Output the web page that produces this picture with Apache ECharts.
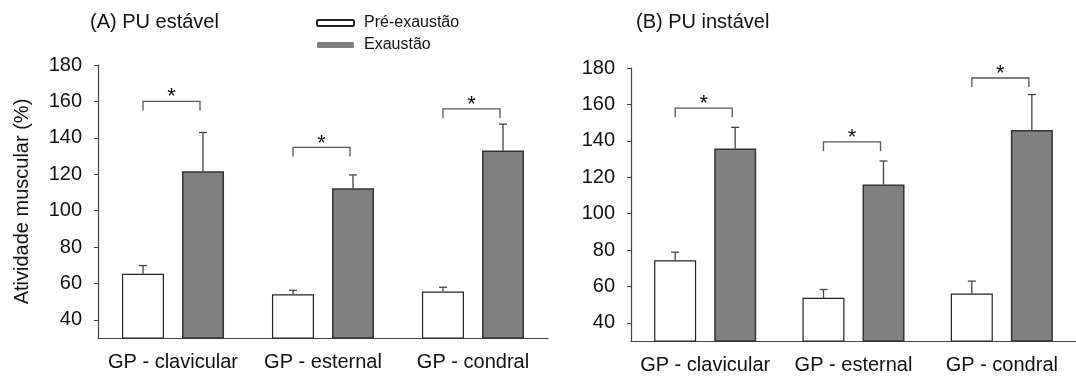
<!DOCTYPE html>
<html>
<head>
<meta charset="UTF-8">
<title>Atividade muscular</title>
<script src="https://cdn.jsdelivr.net/npm/echarts@6/dist/echarts.min.js"></script>
</head>
<body style="margin:0">
    <div id="main" style="width:1076px;height:381px;"></div>

    <script type="text/javascript">
        // categorias e legendas
        var categories = ['GP - clavicular', 'GP - esternal', 'GP - condral'];
        var yTicks = [40, 60, 80, 100, 120, 140, 160, 180];

        // (A) PU estável: médias e desvios (só para cima)
        var preA = [65.3, 54.0, 55.5];
        var preSdA = [4.5, 2.2, 2.4];
        var exaA = [121.6, 112.3, 133.0];
        var exaSdA = [21.3, 7.3, 14.5];
        var sigA = [160, 134.7, 155.9];   // altura dos colchetes *

        // (B) PU instável
        var preB = [74.3, 53.7, 56.1];
        var preSdB = [4.5, 4.6, 6.8];
        var exaB = [135.8, 116.0, 146.0];
        var exaSdB = [11.6, 12.9, 19.4];
        var sigB = [158, 139.4, 174.5];

        var font = '"Liberation Sans", Arial, sans-serif';
        var half = 30; // metade da distância entre os centros das barras

        function xAxisFor(i) {
            return {
                type: 'category', gridIndex: i, data: categories,
                axisLine: { lineStyle: { color: '#444', width: 1.2 } },
                axisTick: { alignWithLabel: true, length: 5, lineStyle: { color: '#444' } },
                axisLabel: { color: '#111', fontSize: 20, fontFamily: font, margin: 14, interval: 0 }
            };
        }

        function yAxisFor(i) {
            var ax = {
                type: 'value', gridIndex: i, min: 30, max: 180,
                axisLine: { show: true, lineStyle: { color: '#444', width: 1.2 } },
                axisTick: { show: true, length: 4, customValues: yTicks, lineStyle: { color: '#444' } },
                axisLabel: { color: '#111', fontSize: 20, fontFamily: font, margin: 16, customValues: yTicks },
                splitLine: { show: false }
            };
            if (i === 0) {
                ax.name = 'Atividade muscular (%)';
                ax.nameLocation = 'middle';
                ax.nameGap = 66;
                ax.nameTextStyle = { color: '#111', fontSize: 20, fontFamily: font };
            }
            return ax;
        }

        function barSeries(i, name, values, fill, border, bw) {
            return {
                name: name, type: 'bar', xAxisIndex: i, yAxisIndex: i,
                data: values, barWidth: 42, barGap: '43%',
                itemStyle: { color: fill, borderColor: border, borderWidth: bw }
            };
        }

        // barras de erro (só a parte de cima)
        function errorSeries(i, means, sds, side) {
            return {
                type: 'custom', xAxisIndex: i, yAxisIndex: i, z: 5,
                data: means.map(function (m, k) { return [k, m, m + sds[k]]; }),
                encode: { x: 0, y: [1, 2] },
                renderItem: function (params, api) {
                    var base = api.coord([api.value(0), api.value(1)]);
                    var top = api.coord([api.value(0), api.value(2)]);
                    var x = base[0] + side * half;
                    var st = { stroke: '#444', lineWidth: 1.3 };
                    return {
                        type: 'group', children: [
                            { type: 'line', shape: { x1: x, y1: base[1], x2: x, y2: top[1] }, style: st },
                            { type: 'line', shape: { x1: x - 4, y1: top[1], x2: x + 4, y2: top[1] }, style: st }
                        ]
                    };
                }
            };
        }

        // colchetes de significância com asterisco
        function bracketSeries(i, levels) {
            return {
                type: 'custom', xAxisIndex: i, yAxisIndex: i, z: 5,
                data: levels.map(function (v, k) { return [k, v]; }),
                encode: { x: 0, y: 1 },
                renderItem: function (params, api) {
                    var p = api.coord([api.value(0), api.value(1)]);
                    var low = api.coord([api.value(0), api.value(1) - 5]);
                    var x1 = p[0] - half, x2 = p[0] + half - 3;
                    return {
                        type: 'group', children: [
                            {
                                type: 'polyline',
                                shape: { points: [[x1, low[1]], [x1, p[1]], [x2, p[1]], [x2, low[1]]] },
                                style: { stroke: '#555', lineWidth: 1.3, fill: null }
                            },
                            {
                                type: 'text', x: (x1 + x2) / 2, y: p[1] - 4,
                                style: { text: '*', fill: '#111', fontSize: 22, fontFamily: font, align: 'center', verticalAlign: 'middle' }
                            }
                        ]
                    };
                }
            };
        }

        var myChart = echarts.init(document.getElementById('main'));

        var option = {
            animation: false,
            textStyle: { fontFamily: font },
            title: [
                { text: '(A) PU estável', left: 85, top: 7, textStyle: { fontSize: 20, fontWeight: 'normal', color: '#111', fontFamily: font } },
                { text: '(B) PU instável', left: 631, top: 7, textStyle: { fontSize: 20, fontWeight: 'normal', color: '#111', fontFamily: font } }
            ],
            legend: {
                data: [
                    { name: 'Pré-exaustão' },
                    { name: 'Exaustão', itemStyle: { borderWidth: 0 } }
                ],
                orient: 'vertical', left: 311, top: 10,
                itemWidth: 37, itemHeight: 6, itemGap: 6,
                textStyle: { fontSize: 16, color: '#111', fontFamily: font, padding: [0, 0, 0, 5] }
            },
            grid: [
                { left: 98, top: 65, width: 450, height: 273 },
                { left: 631, top: 68, width: 450, height: 273 }
            ],
            xAxis: [xAxisFor(0), xAxisFor(1)],
            yAxis: [yAxisFor(0), yAxisFor(1)],
            series: [
                barSeries(0, 'Pré-exaustão', preA, '#ffffff', '#222', 1.2),
                barSeries(0, 'Exaustão', exaA, '#808080', '#333', 1.5),
                barSeries(1, 'Pré-exaustão', preB, '#ffffff', '#222', 1.2),
                barSeries(1, 'Exaustão', exaB, '#808080', '#333', 1.5),
                errorSeries(0, preA, preSdA, -1),
                errorSeries(0, exaA, exaSdA, 1),
                errorSeries(1, preB, preSdB, -1),
                errorSeries(1, exaB, exaSdB, 1),
                bracketSeries(0, sigA),
                bracketSeries(1, sigB)
            ]
        };
        myChart.setOption(option);
    </script>
</body>
</html>
